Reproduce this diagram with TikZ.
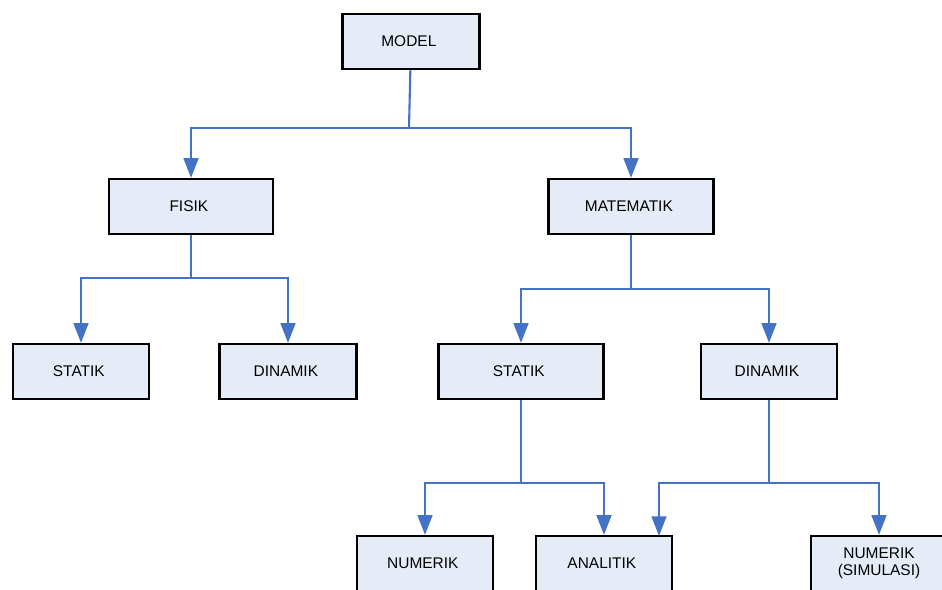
\documentclass[tikz,border=0pt]{standalone}
\usepackage{fontspec}
\setmainfont{Liberation Sans}
\usetikzlibrary{positioning, arrows.meta}
\definecolor{boxfill}{HTML}{E6ECF7}
\definecolor{linkblue}{HTML}{4472C4}
\newcommand{\treearrow}{-{Triangle[length=14pt,width=10.5pt]}}

\begin{document}
\begin{tikzpicture}[x=0.025cm, y=-0.025cm,
    every node/.style={shape=rectangle, draw, line width=1.6pt, fill=boxfill,
        minimum height=55*0.025cm, align=center, font=\fontsize{11pt}{12pt}\selectfont},
    link/.style={draw=linkblue, line width=1.5pt}]
        \clip (0,0) rectangle (942,590);
        \node[minimum width=137*0.025cm] (model) at (411,41.5) { MODEL };
        \node[minimum width=164*0.025cm] (fisik) at (191,206.5) { FISIK };
        \node[minimum width=165*0.025cm] (matematik) at (631,206.5) { MATEMATIK };
        \node[minimum width=136*0.025cm] (statikF) at (81,371.5) { STATIK };
        \node[minimum width=137*0.025cm] (dinamikF) at (288,371.5) { DINAMIK };
        \node[minimum width=165*0.025cm] (statikM) at (521,371.5) { STATIK };
        \node[minimum width=136*0.025cm] (dinamikM) at (769,371.5) { DINAMIK };
        \node[minimum width=136*0.025cm] (numerik) at (425,563.5) { NUMERIK };
        \node[minimum width=136*0.025cm] (analitik) at (604,563.5) { ANALITIK };
        \node[minimum width=136*0.025cm] (simulasi) at (879,563.5) { NUMERIK\\(SIMULASI) };
        % branch points
        \coordinate (splitA) at (409,128);
        \coordinate (splitB) at (191,278);
        \coordinate (splitC) at (631,289);
        \coordinate (splitD) at (521,483);
        \coordinate (splitE) at (769,483);
        \coordinate (analitikR) at (659,536);
        % model
        \draw[link] (model) -- (splitA);
        \draw[link,\treearrow] (splitA) -| (fisik);
        \draw[link,\treearrow] (splitA) -| (matematik);
        % fisik
        \draw[link] (fisik) -- (splitB);
        \draw[link,\treearrow] (splitB) -| (statikF);
        \draw[link,\treearrow] (splitB) -| (dinamikF);
        % matematik
        \draw[link] (matematik) -- (splitC);
        \draw[link,\treearrow] (splitC) -| (statikM);
        \draw[link,\treearrow] (splitC) -| (dinamikM);
        % statik
        \draw[link] (statikM) -- (splitD);
        \draw[link,\treearrow] (splitD) -| (numerik);
        \draw[link,\treearrow] (splitD) -| (analitik);
        % dinamik
        \draw[link] (dinamikM) -- (splitE);
        \draw[link,\treearrow] (splitE) -| (analitikR);
        \draw[link,\treearrow] (splitE) -| (simulasi);
    \end{tikzpicture}
\end{document}
